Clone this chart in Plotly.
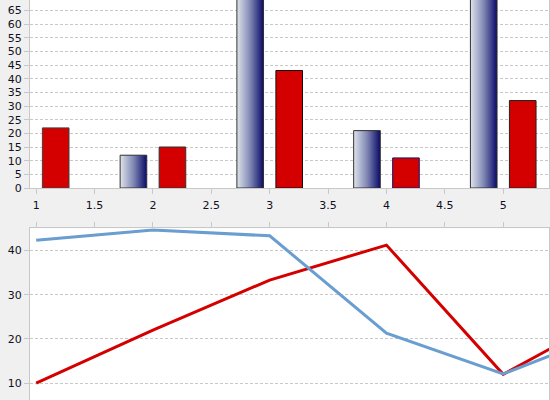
import plotly.graph_objects as go

# ---- data ----
categories = [1, 2, 3, 4, 5]
gradient_values = [None, 12, 75, 21, 80]
red_bar_values = [22, 15, 43, 11, 32]

line_x = [1, 2, 3, 4, 5, 6]
blue_line_values = [42.3, 44.6, 43.3, 21.3, 12.1, 22.4]
red_line_values = [10, 22, 33.3, 41.2, 12, 26.4]

# ---- style ----
BAR_W = 0.228
SHIFT = 0.167
FONT = dict(family="DejaVu Sans", size=11, color="#111122")
GRID = "#c8c8c8"
AXLINE = "#c8c8c8"
DASH = "3px,2px"

fig = go.Figure()

# gradient bars (horizontal gradient fill)
for c, v in zip(categories, gradient_values):
    if v is None:
        continue
    x0 = c - SHIFT - BAR_W / 2
    x1 = c - SHIFT + BAR_W / 2
    fig.add_trace(go.Scatter(
        x=[x0, x0, x1, x1, x0], y=[0, v, v, 0, 0],
        mode="lines", fill="toself",
        fillgradient=dict(type="horizontal",
                          colorscale=[[0, "#dfe4ea"], [0.5, "#8088b4"], [1, "#0a0a68"]]),
        line=dict(color="#303030", width=1),
        hoverinfo="skip", showlegend=False, xaxis="x", yaxis="y"))

fig.add_trace(go.Bar(
    x=categories, y=red_bar_values, width=BAR_W, offset=SHIFT - BAR_W / 2,
    marker=dict(color="#d40000",
                line=dict(color=["#404040", "#303030", "#101010", "#14146e", "#202020"], width=1)),
    showlegend=False, xaxis="x", yaxis="y"))

# lines
fig.add_trace(go.Scatter(x=line_x, y=red_line_values, mode="lines",
                         line=dict(color="#d40000", width=3),
                         showlegend=False, xaxis="x2", yaxis="y2"))
fig.add_trace(go.Scatter(x=line_x, y=blue_line_values, mode="lines",
                         line=dict(color="#6a9dd0", width=3),
                         showlegend=False, xaxis="x2", yaxis="y2"))

xr = [0.947, 5.392]
fig.update_layout(
    width=550, height=400,
    margin=dict(l=30, r=1, t=0, b=0, pad=0),
    paper_bgcolor="#f0f0f0", plot_bgcolor="white",
    font=FONT, barmode="overlay",
    xaxis=dict(domain=[0, 1], anchor="y", range=xr, dtick=0.5, tick0=1,
               ticks="outside", ticklen=5, tickcolor=AXLINE, ticklabelstandoff=2,
               showgrid=False, zeroline=False, showline=True, linecolor=AXLINE, mirror=True,
               automargin=False),
    yaxis=dict(domain=[0.53, 1], anchor="x", range=[0, 68.8], dtick=5, tick0=0,
               ticks="outside", ticklen=5, tickcolor=GRID,
               showgrid=True, gridcolor=GRID, griddash=DASH, zeroline=False,
               showline=True, linecolor=AXLINE, mirror=True, automargin=False),
    xaxis2=dict(domain=[0, 1], anchor="y2", side="top", range=xr, dtick=0.5, tick0=1,
                ticks="outside", ticklen=5, tickcolor=AXLINE, showticklabels=False,
                showgrid=False, zeroline=False, showline=True, linecolor=AXLINE, mirror=True,
                automargin=False),
    yaxis2=dict(domain=[0, 0.4293], anchor="x2", range=[6.2, 45], dtick=10, tick0=0,
                ticks="outside", ticklen=5, tickcolor=GRID,
                showgrid=True, gridcolor=GRID, griddash=DASH, zeroline=False,
                showline=True, linecolor=AXLINE, mirror=True, automargin=False),
)

fig.write_html("out.html", config={"displayModeBar": False},
               post_script="document.body.style.margin='0';document.body.style.overflow='hidden';")
